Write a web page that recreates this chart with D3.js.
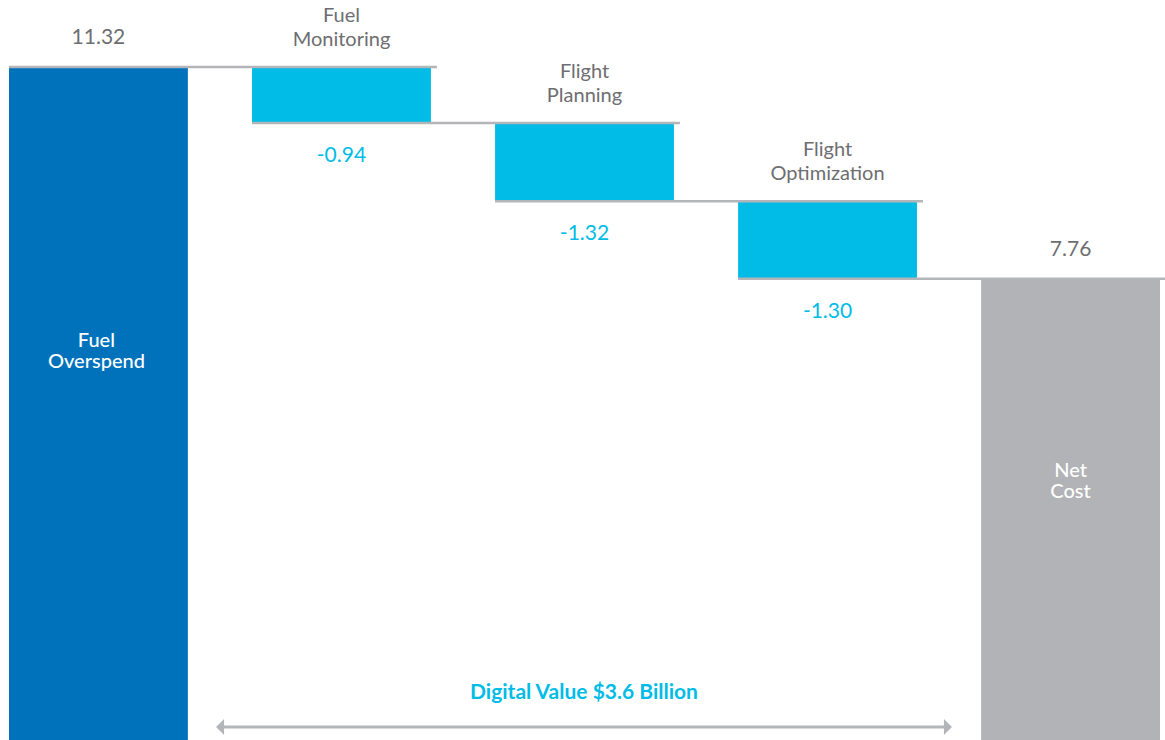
<!DOCTYPE html>
<html>
<head>
<meta charset="utf-8">
<script src="https://cdn.jsdelivr.net/npm/d3@7"></script>
<style>
  html, body { margin: 0; padding: 0; background: #fff; }
  svg text { font-family: Lato, "Open Sans", sans-serif; }
</style>
</head>
<body>
<div id="chart"></div>
<script>
// waterfall steps
var categories = ["Fuel Overspend", "Fuel Monitoring", "Flight Planning", "Flight Optimization", "Net Cost"];
var labelLines = [["Fuel", "Overspend"], ["Fuel", "Monitoring"], ["Flight", "Planning"], ["Flight", "Optimization"], ["Net", "Cost"]];
var values = [11.32, -0.94, -1.32, -1.30, 7.76];
var kinds = ["total", "delta", "delta", "delta", "total"];
var valueLabels = ["11.32", "-0.94", "-1.32", "-1.30", "7.76"];
var spanLabel = "Digital Value $3.6 Billion";

var chartW = 1165, chartH = 740;
var plotTop = 67, plotBottom = 740;

var colors = { start: "#0072bc", delta: "#00bce6", end: "#b1b3b6" };
var textGray = "#6d6e71";
var lineGray = "#b3b5b8";

/* build running totals */
var running = 0;
var data = categories.map(function (c, i) {
  var d = { name: c, lines: labelLines[i], value: values[i], kind: kinds[i], label: valueLabels[i] };
  if (d.kind === "total") {
    d.y0 = 0; d.y1 = d.value; running = d.value;
  } else {
    d.y0 = running + d.value; d.y1 = running; running = d.y0;
  }
  d.color = d.kind === "delta" ? colors.delta : (i === 0 ? colors.start : colors.end);
  return d;
});

var x = d3.scaleBand().domain(categories).range([9, 1160]).paddingInner(0.264).paddingOuter(0);
var y = d3.scaleLinear().domain([0, d3.max(values)]).range([plotBottom, plotTop]);

var svg = d3.select("#chart").append("svg")
  .attr("width", chartW).attr("height", chartH);

/* bars */
svg.append("g").selectAll("rect").data(data).enter().append("rect")
  .attr("x", d => x(d.name))
  .attr("y", d => y(d.y1))
  .attr("width", x.bandwidth())
  .attr("height", d => y(d.y0) - y(d.y1))
  .attr("fill", d => d.color);

/* connector lines: each level runs from its bar to just past the next bar */
var connectors = [];
data.forEach(function (d, i) {
  var next = data[i + 1];
  if (!next) return;
  var level = d.kind === "total" ? d.y1 : d.y0;
  var x2 = next.kind === "total" ? chartW : x(next.name) + x.bandwidth() + 6;
  connectors.push({ x1: x(d.name), x2: x2, level: level });
});

svg.append("g").selectAll("line").data(connectors).enter().append("line")
  .attr("x1", d => d.x1).attr("x2", d => d.x2)
  .attr("y1", d => y(d.level)).attr("y2", d => y(d.level))
  .attr("stroke", lineGray).attr("stroke-width", 2.5);

/* value labels */
svg.append("g").selectAll("text").data(data).enter().append("text")
  .attr("x", d => x(d.name) + x.bandwidth() / 2)
  .attr("y", d => d.kind === "total" ? y(d.y1) - 23 : y(d.y0) + 39)
  .attr("text-anchor", "middle")
  .attr("font-size", 21)
  .attr("fill", d => d.kind === "total" ? textGray : colors.delta)
  .text(d => d.label);

/* category labels: above delta bars, inside total bars */
var cat = svg.append("g").selectAll("text").data(data).enter().append("text")
  .attr("text-anchor", "middle")
  .attr("font-size", 20)
  .attr("font-weight", d => d.kind === "total" ? 500 : 400)
  .attr("fill", d => d.kind === "total" ? "#fff" : textGray)
  .attr("transform", function (d, i) {
    var cx = x(d.name) + x.bandwidth() / 2 - (d.kind === "total" && i === 0 ? 2 : 0);
    var cy;
    if (d.kind === "total") {
      cy = y(d.y1) + (y(d.y0) - y(d.y1)) * (i === 0 ? 0.416 : 0.43);
    } else {
      cy = y(d.y1) - 45;
    }
    return "translate(" + cx + "," + cy + ")";
  });
cat.selectAll("tspan").data(d => d.lines.map(l => ({ t: l, total: d.kind === "total" })))
  .enter().append("tspan")
  .attr("x", 0)
  .attr("y", (d, i) => i * (d.total ? 21 : 24))
  .text(d => d.t);

/* span arrow under the deltas */
var ax1 = x(categories[1]) - 36, ax2 = x(categories[3]) + x.bandwidth() + 35;
var ay = 727;
svg.append("line")
  .attr("x1", ax1 + 6).attr("x2", ax2 - 6)
  .attr("y1", ay).attr("y2", ay)
  .attr("stroke", lineGray).attr("stroke-width", 3);
svg.append("path")
  .attr("d", "M" + ax1 + "," + ay + "L" + (ax1 + 8) + "," + (ay - 8) + "L" + (ax1 + 8) + "," + (ay + 8) + "Z")
  .attr("fill", lineGray);
svg.append("path")
  .attr("d", "M" + ax2 + "," + ay + "L" + (ax2 - 8) + "," + (ay - 8) + "L" + (ax2 - 8) + "," + (ay + 8) + "Z")
  .attr("fill", lineGray);
svg.append("text")
  .attr("x", (ax1 + ax2) / 2).attr("y", 699)
  .attr("text-anchor", "middle")
  .attr("font-size", 21).attr("font-weight", 700)
  .attr("fill", colors.delta)
  .text(spanLabel);
</script>
</body>
</html>
